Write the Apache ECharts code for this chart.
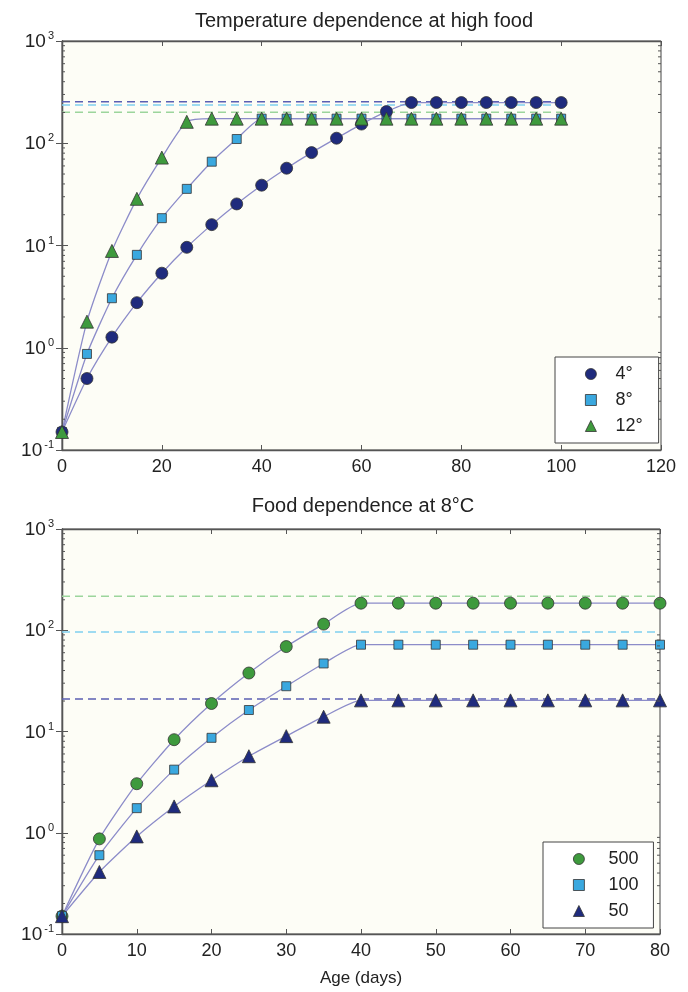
<!DOCTYPE html>
<html>
<head>
<meta charset="utf-8">
<script src="https://cdn.jsdelivr.net/npm/echarts@6/dist/echarts.min.js"></script>
<style>
  html, body { margin: 0; padding: 0; background: #fff; }
  #main { width: 688px; height: 992px; }
</style>
</head>
<body>
<div id="main"></div>
<script>
// top panel: temperature dependence at high food
const agesTop = [0, 5, 10, 15, 20, 25, 30, 35, 40, 45, 50, 55, 60, 65, 70, 75, 80, 85, 90, 95, 100]
const temp4 = [0.15, 0.5, 1.27, 2.76, 5.36, 9.6, 16, 25.5, 38.9, 57, 81, 112, 154, 204, 250, 250, 250, 250, 250, 250, 250]
const temp8 = [0.15, 0.87, 3.05, 8.1, 18.5, 35.8, 66, 110, 174, 174, 174, 174, 174, 174, 174, 174, 174, 174, 174, 174, 174]
const temp12 = [0.15, 1.8, 8.85, 28.6, 72.4, 162, 174, 174, 174, 174, 174, 174, 174, 174, 174, 174, 174, 174, 174, 174, 174]
const tempMax = [255, 236, 201] // dashed lines 4°, 8°, 12°

// bottom panel: food dependence at 8°C
const agesBottom = [0, 5, 10, 15, 20, 25, 30, 35, 40, 45, 50, 55, 60, 65, 70, 75, 80]
const food500 = [0.15, 0.87, 3.05, 8.3, 18.9, 37.8, 69, 115, 185, 185, 185, 185, 185, 185, 185, 185, 185]
const food100 = [0.15, 0.6, 1.75, 4.2, 8.66, 16.3, 28, 47, 72, 72, 72, 72, 72, 72, 72, 72, 72]
const food50 = [0.15, 0.41, 0.92, 1.82, 3.3, 5.7, 9, 14, 20.3, 20.3, 20.3, 20.3, 20.3, 20.3, 20.3, 20.3, 20.3]
const foodMax = [217, 96, 21] // dashed lines 500, 100, 50

const decades = [0.1, 1, 10, 100]
const minorSteps = [2, 3, 4, 5, 6, 7, 8, 9]

const navy = '#1f2b7d'
const blue = '#3aa8df'
const green = '#3e9a3d'
const lineCol = '#8c8cc9'
const font = 'Liberation Sans'

const pairs = (xs, ys) => xs.map((x, i) => [x, ys[i]])
const minorData = []
decades.forEach(d => minorSteps.forEach(s => minorData.push([0, d * s])))

const yLabel = {
  color: '#222',
  margin: 8,
  formatter: function (v) {
    return '{b|10}{s|' + Math.round(Math.log10(v)) + '}'
  },
  rich: {
    b: { fontSize: 19, fontFamily: font, color: '#222', lineHeight: 20, verticalAlign: 'bottom' },
    s: { fontSize: 11, fontFamily: font, color: '#222', verticalAlign: 'top', padding: [0, 0, 10, 2] }
  }
}

const mkY = (grid, pos) => ({
  type: 'log',
  logBase: 10,
  gridIndex: grid,
  position: pos,
  min: 0.1,
  max: 1000,
  splitLine: { show: false },
  axisLine: { show: true, lineStyle: { color: '#555', width: 1.3 } },
  axisTick: { show: true, inside: true, length: 6, lineStyle: { color: '#555' } },
  axisLabel: pos === 'left' ? yLabel : { show: false }
})

const mkX = (grid, pos, max, interval, name) => ({
  type: 'value',
  gridIndex: grid,
  position: pos,
  min: 0,
  max: max,
  interval: interval,
  splitLine: { show: false },
  axisLine: { show: true, lineStyle: { color: '#555', width: 1.3 } },
  axisTick: { show: true, inside: true, length: 5, lineStyle: { color: '#555' } },
  axisLabel: pos === 'bottom' ? { color: '#222', fontSize: 18, fontFamily: font, margin: 8 } : { show: false },
  name: name || '',
  nameLocation: 'middle',
  nameGap: 36,
  nameTextStyle: { color: '#222', fontSize: 17, fontFamily: font }
})

const dataSeries = (name, xi, data, color, symbol, size) => ({
  name: name,
  type: 'line',
  xAxisIndex: xi,
  yAxisIndex: xi,
  data: data,
  symbol: symbol,
  symbolSize: size,
  showAllSymbol: true,
  smooth: 0.2,
  lineStyle: { color: lineCol, width: 1.3 },
  itemStyle: { color: color, borderColor: '#333', borderWidth: 0.8 },
  z: 3
})

const dashSeries = (xi, xmax, v, color) => ({
  type: 'line',
  xAxisIndex: xi,
  yAxisIndex: xi,
  data: [[0, v], [xmax, v]],
  symbol: 'none',
  silent: true,
  lineStyle: { color: color, width: 1.5, type: [8, 5] },
  z: 2
})

const minorSeries = (xi) => ({
  type: 'custom',
  xAxisIndex: xi,
  yAxisIndex: xi,
  data: minorData,
  silent: true,
  clip: false,
  z: 4,
  renderItem: function (params, api) {
    const cs = params.coordSys
    const y = api.coord([0, api.value(1)])[1]
    const st = { stroke: '#555', lineWidth: 1 }
    return {
      type: 'group',
      children: [
        { type: 'line', shape: { x1: cs.x, y1: y, x2: cs.x + 3, y2: y }, style: st },
        { type: 'line', shape: { x1: cs.x + cs.width, y1: y, x2: cs.x + cs.width - 3, y2: y }, style: st }
      ]
    }
  }
})

const legendItem = (name, icon, color) => ({
  name: name,
  icon: icon,
  itemStyle: { color: color, borderColor: '#333', borderWidth: 0.8 }
})

const legendBase = (gap) => ({
  orient: 'vertical',
  backgroundColor: '#fff',
  borderColor: '#444',
  borderWidth: 1,
  borderRadius: 0,
  itemWidth: 11,
  itemHeight: 11,
  itemGap: 8,
  formatter: name => '{g|}{t|' + name + '}',
  textStyle: {
    color: '#222',
    fontSize: 18,
    fontFamily: font,
    rich: {
      g: { width: gap },
      t: { fontSize: 18, fontFamily: font, color: '#222' }
    }
  }
})

const myChart = echarts.init(document.getElementById('main'))
const option = {
  animation: false,
  backgroundColor: '#fff',
  title: [
    { text: 'Temperature dependence at high food', left: 359, top: 6, textAlign: 'center',
      textStyle: { color: '#222', fontSize: 20, fontWeight: 'normal', fontFamily: font } },
    { text: 'Food dependence at 8°C', left: 358, top: 491, textAlign: 'center',
      textStyle: { color: '#222', fontSize: 20, fontWeight: 'normal', fontFamily: font } }
  ],
  grid: [
    { left: 62, top: 41, width: 599, height: 409, show: true, backgroundColor: '#fdfdf6', borderColor: '#444', borderWidth: 1 },
    { left: 62, top: 529, width: 598, height: 405, show: true, backgroundColor: '#fdfdf6', borderColor: '#444', borderWidth: 1 }
  ],
  xAxis: [
    mkX(0, 'bottom', 120, 20),
    mkX(0, 'top', 120, 20),
    mkX(1, 'bottom', 80, 10, 'Age (days)'),
    mkX(1, 'top', 80, 10)
  ],
  yAxis: [
    mkY(0, 'left'),
    mkY(0, 'right'),
    mkY(1, 'left'),
    mkY(1, 'right')
  ],
  legend: [
    Object.assign(legendBase(14), {
      left: 555, top: 357,
      padding: [8, 16, 8, 30],
      data: [legendItem('4°', 'circle', navy), legendItem('8°', 'rect', blue), legendItem('12°', 'triangle', green)]
    }),
    Object.assign(legendBase(19), {
      left: 543, top: 842,
      padding: [8, 15, 8, 30],
      data: [legendItem('500', 'circle', green), legendItem('100', 'rect', blue), legendItem('50', 'triangle', navy)]
    })
  ],
  series: [
    dashSeries(0, 100, tempMax[0], '#5b5fb2'),
    dashSeries(0, 100, tempMax[1], '#7fd0f0'),
    dashSeries(0, 100, tempMax[2], '#9cd59c'),
    dataSeries('8°', 0, pairs(agesTop, temp8), blue, 'rect', 9),
    dataSeries('4°', 0, pairs(agesTop, temp4), navy, 'circle', 12),
    dataSeries('12°', 0, pairs(agesTop, temp12), green, 'triangle', 13),
    minorSeries(0),

    dashSeries(2, 80, foodMax[0], '#9cd59c'),
    dashSeries(2, 80, foodMax[1], '#7fd0f0'),
    dashSeries(2, 80, foodMax[2], '#5b5fb2'),
    dataSeries('500', 2, pairs(agesBottom, food500), green, 'circle', 12),
    dataSeries('100', 2, pairs(agesBottom, food100), blue, 'rect', 9),
    dataSeries('50', 2, pairs(agesBottom, food50), navy, 'triangle', 13),
    minorSeries(2)
  ]
}
myChart.setOption(option)
</script>
</body>
</html>
